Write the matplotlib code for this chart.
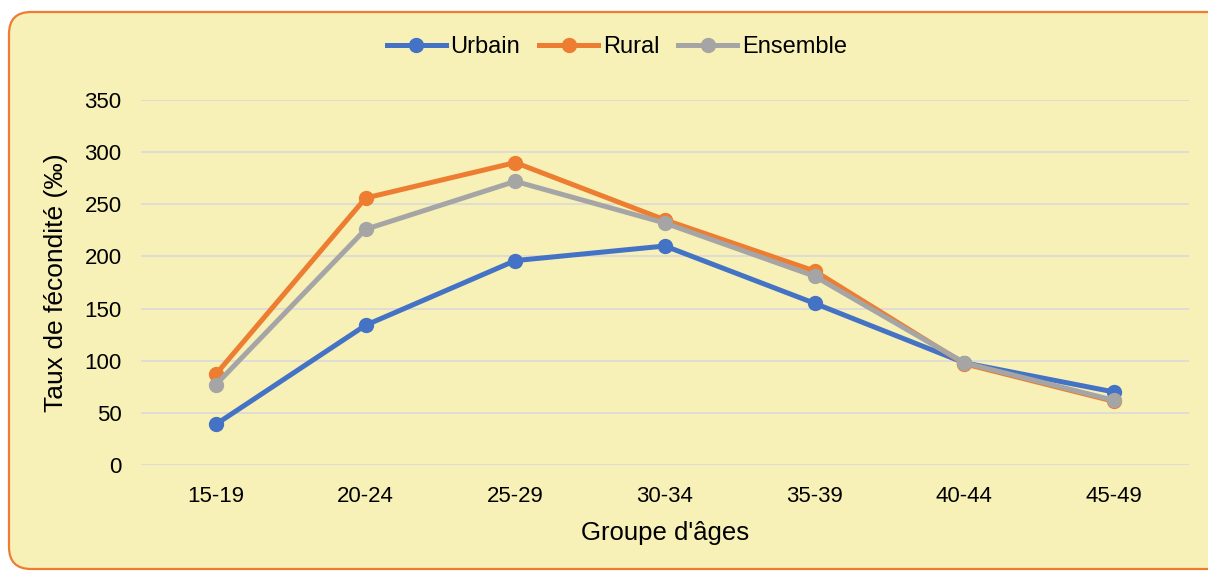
import matplotlib
matplotlib.use("Agg")
import matplotlib.pyplot as plt
from matplotlib.patches import FancyBboxPatch

# groupes d'âges et taux de fécondité (pour mille)
groupes = ['15-19', '20-24', '25-29', '30-34', '35-39', '40-44', '45-49']
urbain = [39, 134, 196, 210, 155, 98, 70]
rural = [87, 256, 290, 235, 186, 97, 61]
ensemble = [77, 226, 272, 232, 181, 98, 62]

plt.rcParams['font.family'] = ['Liberation Sans', 'DejaVu Sans']

W, H = 1208, 572
fig = plt.figure(figsize=(W / 100, H / 100), dpi=100)
fig.patch.set_facecolor('white')

# cadre jaune arrondi (coordonnées en pixels)
cadre = FancyBboxPatch((9, 3), 1260, 557,
                       boxstyle='round,pad=0,rounding_size=22',
                       transform=None, facecolor='#F7F0B7',
                       edgecolor='#ED7D31', linewidth=1.6, zorder=-5)
fig.patches.append(cadre)

ax = fig.add_axes([141 / W, (H - 465) / H, (1189 - 141) / W, 365 / H])
ax.set_facecolor('none')
for s in ax.spines.values():
    s.set_visible(False)

x = range(len(groupes))
ax.plot(x, urbain, color='#4472C4', lw=3.6, marker='o', ms=10, label='Urbain', zorder=3)
ax.plot(x, rural, color='#ED7D31', lw=3.6, marker='o', ms=10, label='Rural', zorder=3)
ax.plot(x, ensemble, color='#A5A5A5', lw=3.6, marker='o', ms=10, label='Ensemble', zorder=4)

ax.set_xlim(-0.5, len(groupes) - 0.5)
ax.set_ylim(0, 350)
ax.set_yticks(range(0, 351, 50))
ax.set_xticks(list(x))
ax.set_xticklabels(groupes)
ax.grid(axis='y', color='#D9D9D9', lw=1.2, zorder=0)
ax.tick_params(length=0, labelsize=16, colors='black')
ax.tick_params(axis='y', pad=14)
ax.tick_params(axis='x', pad=15)

ax.set_xlabel("Groupe d'âges", fontsize=18.5, labelpad=10)
ax.set_ylabel('Taux de fécondité (‰)', fontsize=19, labelpad=12)

fig.legend(loc='center', bbox_to_anchor=(617 / W, (H - 47) / H), ncol=3,
           frameon=False, fontsize=17, handlelength=2.5, columnspacing=0.8,
           handletextpad=0.2)

fig.savefig('out.png', dpi=100)
